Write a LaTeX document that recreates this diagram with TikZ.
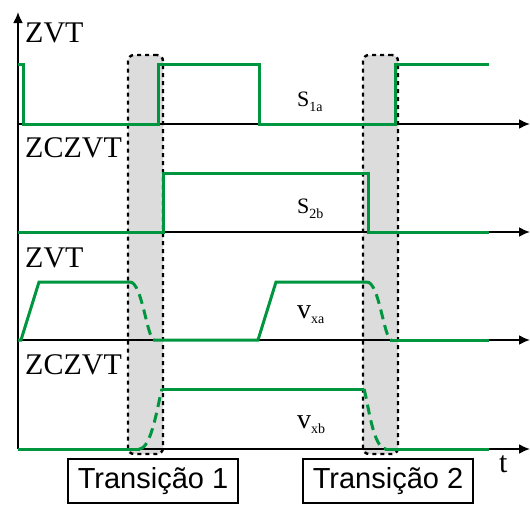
\documentclass[tikz,border=0pt]{standalone}
\usepackage{fontspec}
\setmainfont{Liberation Serif}
\newfontfamily\boxfont{Liberation Sans}
\usepackage{tikz}
\usetikzlibrary{arrows.meta}
\definecolor{wave}{HTML}{00963F}
\definecolor{shade}{HTML}{DCDCDC}
\newcommand{\lowsub}[1]{\raisebox{-5pt}{\fontsize{14}{14}\selectfont #1}}
\tikzset{
  axis/.style={line width=2pt, -{Latex[length=11pt,width=10pt]}},
  signal/.style={draw=wave, line width=3pt},
  fade/.style={signal, dash pattern=on 10pt off 6pt},
  win/.style={draw=black, fill=shade, dash pattern=on 4pt off 4pt, line width=2.4pt,
              rounded corners=6pt, minimum width=35pt, inner sep=0pt},
}

\begin{document}
\begin{tikzpicture}[x=1pt, y=-1pt,
      modelbl/.style={font=\fontsize{30}{30}\selectfont, inner sep=0pt, anchor=base west},
      siglbl/.style={font=\fontsize{22}{22}\selectfont, inner sep=0pt, anchor=base west},
      tbox/.style={draw, line width=1.6pt, minimum width=170pt, minimum height=44pt,
                   inner sep=0pt, font=\boxfont\fontsize{29}{29}\selectfont}]
    \useasboundingbox (0,0) rectangle (530,504);
    \node[win, minimum height=399pt] (win1) at (145.5,254.5) {};
    \node[win, minimum height=399pt] (win2) at (380.5,254.5) {};
    \coordinate (top) at (18,12);
    \coordinate (o1) at (18,124);
    \coordinate (o2) at (18,232);
    \coordinate (o3) at (18,340);
    \coordinate (o4) at (18,449);
    \coordinate (e1) at (530,124);
    \coordinate (e2) at (530,232);
    \coordinate (e3) at (530,340);
    \coordinate (e4) at (530,449);
    \draw[axis] (o4) -- (top);
    \foreach \i in {1,...,4}
      \draw[axis] (o\i) -- (e\i);
    \draw[signal] (18,64) -- (23,64) -- (23,124) -- (158,124) -- (158,64) -- (259,64)
      -- (259,124) -- (395,124) -- (395,64) -- (489,64);
    \draw[signal] (18,232) -- (163,232) -- (163,173) -- (368,173) -- (368,232) -- (489,232);
    \draw[signal] (18,340) -- (21,340) -- (39,282) -- (130,282);
    \draw[fade] (130,282) .. controls (142,282) and (147,338) .. (154,340);
    \draw[signal] (153,340) -- (258,340) -- (276,282) -- (367,282);
    \draw[fade] (367,282) .. controls (379,282) and (384,338) .. (391,340);
    \draw[signal] (390,340) -- (489,340);
    \draw[signal] (18,449) -- (140,449);
    \draw[fade] (139,449) .. controls (152,449) and (158,402) .. (162,389);
    \draw[signal] (162,389) -- (364,389);
    \draw[fade] (364,389) .. controls (368,402) and (373,449) .. (386,449);
    \draw[signal] (385,449) -- (489,449);
    \node[modelbl] (zvt1) at (25,42) {ZVT};
    \node[modelbl] (zcz1) at (25,157) {ZCZVT};
    \node[modelbl] (zvt2) at (25,267) {ZVT};
    \node[modelbl] (zcz2) at (25,374) {ZCZVT};
    \node[siglbl] (s1a) at (297,106) {S\lowsub{1a}};
    \node[siglbl] (s2b) at (297,213) {S\lowsub{2b}};
    \node[modelbl, font=\fontsize{28}{28}\selectfont] (vxa) at (297,318) {v\lowsub{xa}};
    \node[modelbl, font=\fontsize{28}{28}\selectfont] (vxb) at (297,428) {v\lowsub{xb}};
    \node[modelbl] (tlab) at (499,472) {t};
    \node[tbox] (tr1) at (153,481) {Transição 1};
    \node[tbox] (tr2) at (388,481) {Transição 2};
  \end{tikzpicture}
\end{document}
